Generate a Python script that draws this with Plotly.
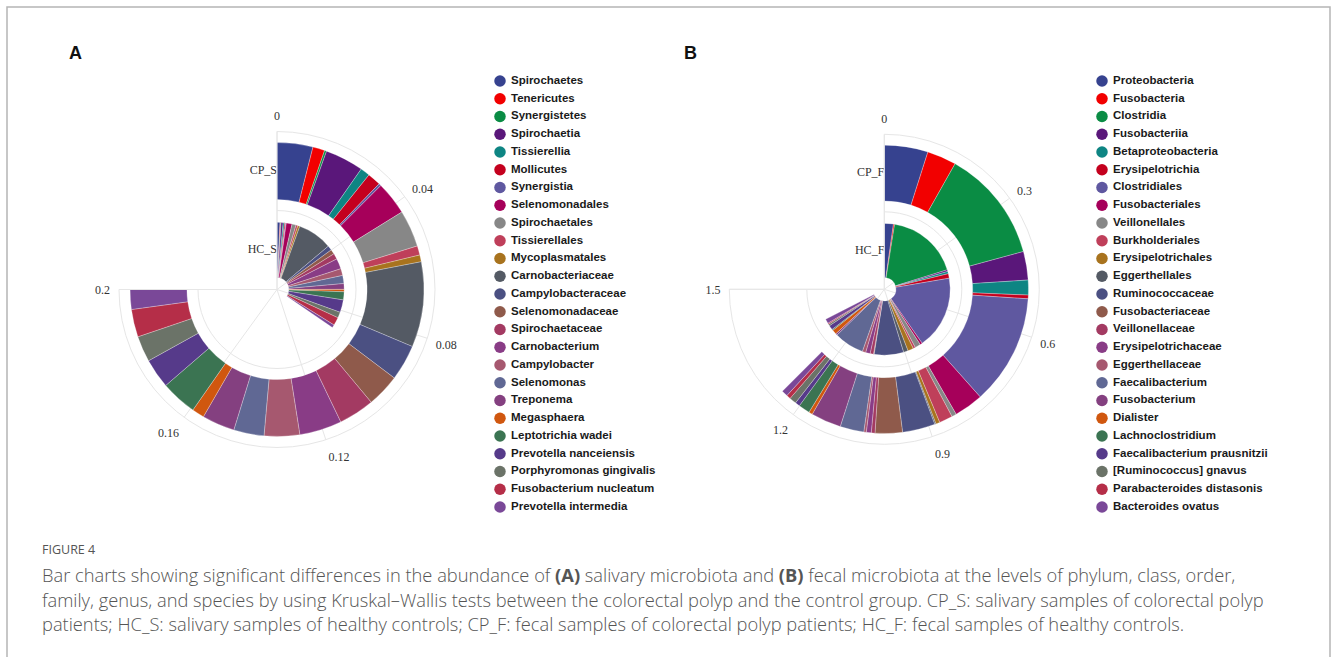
import plotly.graph_objects as go

# ---------------- data ----------------
taxa_A = ["Spirochaetes", "Tenericutes", "Synergistetes", "Spirochaetia", "Tissierellia",
          "Mollicutes", "Synergistia", "Selenomonadales", "Spirochaetales", "Tissierellales",
          "Mycoplasmatales", "Carnobacteriaceae", "Campylobacteraceae", "Selenomonadaceae",
          "Spirochaetaceae", "Carnobacterium", "Campylobacter", "Selenomonas", "Treponema",
          "Megasphaera", "Leptotrichia wadei", "Prevotella nanceiensis",
          "Porphyromonas gingivalis", "Fusobacterium nucleatum", "Prevotella intermedia"]
CP_S = [0.0105, 0.0035, 0.0006, 0.0113, 0.0028, 0.0039, 0.0007, 0.0098, 0.0108, 0.0027,
        0.0020, 0.0250, 0.0105, 0.0097, 0.0105, 0.0124, 0.0104, 0.0089, 0.0096, 0.0036,
        0.0106, 0.0087, 0.0076, 0.0081, 0.0058]
HC_S = [0.0019, 0.0004, 0.0003, 0.0013, 0.0009, 0.0007, 0.0004, 0.0037, 0.0026, 0.0012,
        0.0013, 0.0222, 0.0030, 0.0030, 0.0037, 0.0067, 0.0044, 0.0052, 0.0037, 0.0015,
        0.0052, 0.0081, 0.0037, 0.0052, 0.0019]

taxa_B = ["Proteobacteria", "Fusobacteria", "Clostridia", "Fusobacteriia", "Betaproteobacteria",
          "Erysipelotrichia", "Clostridiales", "Fusobacteriales", "Veillonellales",
          "Burkholderiales", "Erysipelotrichales", "Eggerthellales", "Ruminococcaceae",
          "Fusobacteriaceae", "Veillonellaceae", "Erysipelotrichaceae", "Eggerthellaceae",
          "Faecalibacterium", "Fusobacterium", "Dialister", "Lachnoclostridium",
          "Faecalibacterium prausnitzii", "[Ruminococcus] gnavus", "Parabacteroides distasonis",
          "Bacteroides ovatus"]
CP_F = [0.0978, 0.0656, 0.2522, 0.0639, 0.0333, 0.0083, 0.2472, 0.0656, 0.0106, 0.0300,
        0.0089, 0.0028, 0.0733, 0.0611, 0.0083, 0.0111, 0.0056, 0.0533, 0.0678, 0.0083,
        0.0256, 0.0106, 0.0156, 0.0094, 0.0139]
HC_F = [0.0444, 0.0056, 0.3544, 0.0083, 0.0111, 0.0222, 0.3594, 0.0111, 0.0278, 0.0111,
        0.0278, 0.0222, 0.1444, 0.0028, 0.0167, 0.0222, 0.0167, 0.1472, 0.0083, 0.0222,
        0.0056, 0.0222, 0.0083, 0.0056, 0.0222]

groups_A = ["HC_S", "CP_S"]
groups_B = ["HC_F", "CP_F"]
ticks_A = [0, 0.04, 0.08, 0.12, 0.16, 0.2]
ticks_B = [0, 0.3, 0.6, 0.9, 1.2, 1.5]

palette = ["#36428f", "#f20000", "#0a8c44", "#5a177a", "#0e8583", "#c4001e", "#5f58a0",
           "#a6005a", "#878787", "#bf3f5a", "#a8731e", "#545a64", "#4b5082", "#8f5a4b",
           "#a33a62", "#893c86", "#a6586f", "#606894", "#844080", "#d0570f", "#3b7452",
           "#563a8a", "#6b7368", "#b52e48", "#7a4898"]

SPAN = 270.0  # degrees covered by the angular axis
BASES = [0.15, 1.14]
LENS = [0.70, 0.72]
GRID = "#e6e6e6"
SERIF = "Liberation Serif, Times New Roman, serif"
SANS = "Liberation Sans, Arial, sans-serif"
CAPF = "Open Sans, Noto Sans, sans-serif"

W, H = 1331, 657


def px(x):
    return x / W


def py(y):
    return 1 - y / H


fig = go.Figure()


def add_panel(polar, taxa, inner, outer, groups, ticks):
    vmax = ticks[-1]
    scale = SPAN / vmax
    cum = [0.0, 0.0]
    for i, name in enumerate(taxa):
        vals = [inner[i], outer[i]]
        widths = [v * scale for v in vals]
        centers = [(cum[k] + vals[k] / 2) * scale for k in range(2)]
        cum = [cum[k] + vals[k] for k in range(2)]
        fig.add_trace(go.Barpolar(
            r=LENS, base=BASES, theta=centers, width=widths,
            marker=dict(color=palette[i], line=dict(color="rgba(255,255,255,0.55)", width=0.5)),
            name=name, subplot=polar, showlegend=False, hoverinfo="skip"))
    # category labels along the zero spoke
    fig.add_trace(go.Scatterpolar(
        r=[b + l / 2 for b, l in zip(BASES, LENS)], theta=[0, 0], mode="text",
        text=groups, textposition="middle left", cliponaxis=False,
        textfont=dict(family=SERIF, size=12, color="#333333"),
        subplot=polar, showlegend=False, hoverinfo="skip"))
    fig.update_layout(**{polar: dict(
        sector=[-180, 90],
        bgcolor="white",
        angularaxis=dict(
            rotation=90, direction="clockwise",
            tickmode="array", tickvals=[t * scale for t in ticks],
            ticktext=[f"{t:g}" for t in ticks], showticklabels=True,
            tickfont=dict(family=SERIF, size=12, color="#333333"),
            ticks="outside", ticklen=6, tickcolor="rgba(0,0,0,0)",
            showline=True, linecolor=GRID, linewidth=1,
            showgrid=True, gridcolor=GRID, gridwidth=1),
        radialaxis=dict(
            range=[0, 2], angle=90, tickmode="array", tickvals=[1],
            showticklabels=False, ticks="", showline=False,
            showgrid=True, gridcolor=GRID, gridwidth=1, layer="below traces"),
    )})


add_panel("polar", taxa_A, HC_S, CP_S, groups_A, ticks_A)
add_panel("polar2", taxa_B, HC_F, CP_F, groups_B, ticks_B)

fig.update_layout(
    polar=dict(domain=dict(x=[px(119), px(435)], y=[py(447.5), py(131.5)])),
    polar2=dict(domain=dict(x=[px(729.3), px(1039.3)], y=[py(444.3), py(134.3)])),
)


# ---------------- legends drawn as categorical scatter ----------------
def add_legend(xa, ya, taxa, x_marker, x_text):
    n = len(taxa)
    fig.add_trace(go.Scatter(
        x=[0] * n, y=taxa, mode="markers", xaxis=xa, yaxis=ya, cliponaxis=False,
        marker=dict(size=11.5, color=palette[:n], line=dict(width=0)),
        showlegend=False, hoverinfo="skip"))
    fig.add_trace(go.Scatter(
        x=[1] * n, y=taxa, mode="text", text=taxa, textposition="middle right",
        xaxis=xa, yaxis=ya, cliponaxis=False,
        textfont=dict(family=SANS, size=11.5, color="#1a1a1a", weight="bold"),
        showlegend=False, hoverinfo="skip"))
    axname_x = "xaxis" if xa == "x" else "xaxis" + xa[1:]
    axname_y = "yaxis" if ya == "y" else "yaxis" + ya[1:]
    fig.update_layout(**{
        axname_x: dict(domain=[px(x_marker), px(x_text)], range=[0, 1], visible=False,
                       fixedrange=True),
        axname_y: dict(domain=[py(515.9), py(72.1)], type="category",
                       categoryorder="array", categoryarray=taxa,
                       range=[n - 0.5, -0.5], visible=False, fixedrange=True),
    })


add_legend("x", "y", taxa_A, 500, 511)
add_legend("x2", "y2", taxa_B, 1102, 1113)

# ---------------- text ----------------
ann = []
for letter, xx in (("A", 75), ("B", 690)):
    ann.append(dict(text=f"<b>{letter}</b>", x=px(xx), y=py(53), xref="paper", yref="paper",
                    showarrow=False, font=dict(family=SANS, size=18, color="#111111"),
                    xanchor="center", yanchor="middle"))
ann.append(dict(text="FIGURE 4", x=px(40), y=py(549), xref="paper", yref="paper",
                showarrow=False, font=dict(family=CAPF, size=12.5, color="#555555"),
                xanchor="left", yanchor="middle"))
caption = [
    "Bar charts showing significant differences in the abundance of <b>(A)</b> salivary microbiota and <b>(B)</b> fecal microbiota at the levels of phylum, class, order,",
    "family, genus, and species by using Kruskal–Wallis tests between the colorectal polyp and the control group. CP_S: salivary samples of colorectal polyp",
    "patients; HC_S: salivary samples of healthy controls; CP_F: fecal samples of colorectal polyp patients; HC_F: fecal samples of healthy controls.",
]
for line, yy in zip(caption, [574, 599, 623]):
    ann.append(dict(text=line, x=px(40), y=py(yy), xref="paper", yref="paper",
                    showarrow=False,
                    font=dict(family=CAPF, size=18.3, color="#555555", weight=300),
                    xanchor="left", yanchor="middle"))

fig.update_layout(
    width=W, height=H, template="none",
    margin=dict(l=0, r=0, t=0, b=0),
    paper_bgcolor="white", plot_bgcolor="white",
    annotations=ann, showlegend=False,
    shapes=[dict(type="rect", xref="paper", yref="paper",
                 x0=px(7), x1=px(1330), y0=-0.2, y1=py(7),
                 line=dict(color="#b5b5b5", width=1.5), fillcolor="rgba(0,0,0,0)")],
)

fig.write_html("out.html", config={"displayModeBar": False},
               post_script="document.body.style.margin='0';document.body.style.overflow='hidden';")
